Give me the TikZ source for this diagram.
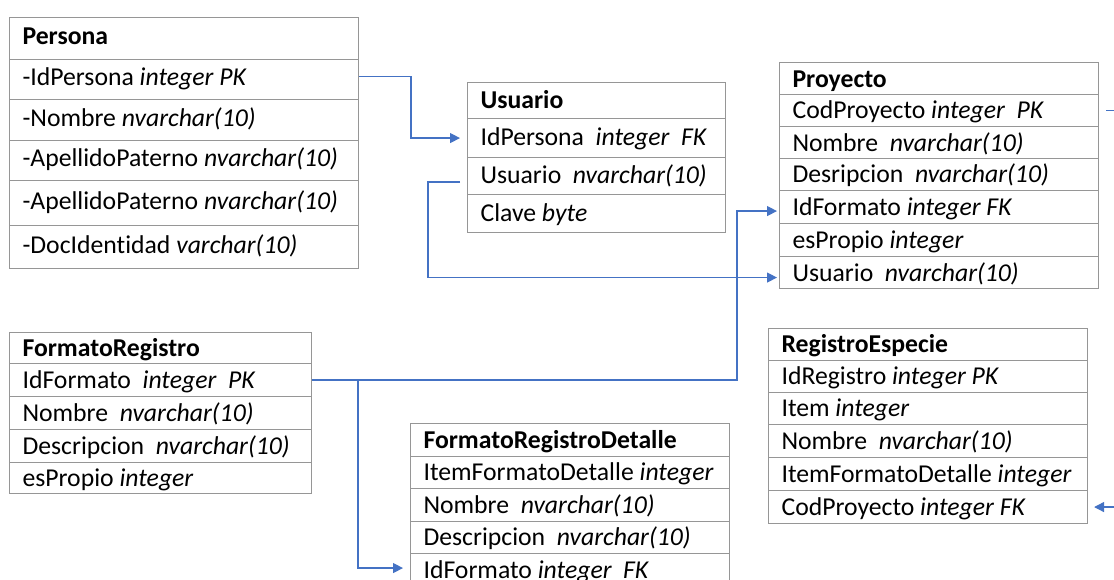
\documentclass[tikz,border=0pt]{standalone}
\usepackage{fontspec}
\setmainfont{Carlito}[Ligatures=NoCommon]
\usetikzlibrary{arrows.meta}

\definecolor{gridgray}{RGB}{150,150,150}
\definecolor{linkblue}{RGB}{68,114,196}

\tikzset{
  cell/.style={draw=gridgray, line width=1.1pt, inner xsep=13pt, inner ysep=0pt,
    font=\fontsize{25.7}{30}\selectfont},
  fklink/.style={draw=linkblue, line width=1.3pt},
  fkarrow/.style={fklink, -{Triangle[length=10pt,width=10pt]}}
}

% depth of the row strut; a smaller depth sets the text lower in its row
\newlength{\rowdepth}
\setlength{\rowdepth}{2pt}
\newcommand{\rowstrut}{\rule[-\rowdepth]{0pt}{\dimexpr 21pt+\rowdepth\relax}}

% one table row: name, left x, top y, width, height, text
\newcommand{\erow}[6]{%
  \node[cell, anchor=north west, minimum height=#5pt] (#1) at (#2,#3)
    {\makebox[\dimexpr #4pt-26pt\relax][l]{\rowstrut #6}};}

\begin{document}
\begin{tikzpicture}[x=1pt,y=-1pt]
\useasboundingbox (0,0) rectangle (1114,579);
\fill[white] (0,0) rectangle (1114,579);
\clip (0,0) rectangle (1114,579);
\coordinate (edgeR) at (1130,0);

% Persona
\setlength{\rowdepth}{9pt}
\erow{pers0}{9}{17}{349}{42}{\textbf{Persona}}
\erow{pers1}{9}{59}{349}{40}{-IdPersona \textit{integer PK}}
\erow{pers2}{9}{99}{349}{41}{-Nombre \textit{nvarchar(10)}}
\erow{pers3}{9}{140}{349}{40}{-ApellidoPaterno \textit{nvarchar(10)}}
\erow{pers4}{9}{180}{349}{45}{-ApellidoPaterno \textit{nvarchar(10)}}
\erow{pers5}{9}{225}{349}{43}{-DocIdentidad \textit{varchar(10)}}

% Usuario
\setlength{\rowdepth}{6pt}
\erow{usr0}{467}{82}{258}{36}{\textbf{Usuario}}
\erow{usr1}{467}{118}{258}{39}{IdPersona~~\textit{integer~~FK}}
\erow{usr2}{467}{157}{258}{37}{Usuario~~\textit{nvarchar(10)}}
\erow{usr3}{467}{194}{258}{38}{Clave \textit{byte}}

\setlength{\rowdepth}{2pt}
% Proyecto
\erow{proy0}{779}{62}{319}{32}{\textbf{Proyecto}}
\erow{proy1}{779}{94}{319}{32}{CodProyecto \textit{integer~~PK}}
\erow{proy2}{779}{126}{319}{32}{Nombre~~\textit{nvarchar(10)}}
\erow{proy3}{779}{158}{319}{32}{Desripcion~~\textit{nvarchar(10)}}
\erow{proy4}{779}{190}{319}{33}{IdFormato \textit{integer FK}}
\erow{proy5}{779}{223}{319}{33}{esPropio \textit{integer}}
\erow{proy6}{779}{256}{319}{32}{Usuario~~\textit{nvarchar(10)}}

% FormatoRegistro
\erow{fr0}{9}{332}{302}{31}{\textbf{FormatoRegistro}}
\erow{fr1}{9}{363}{302}{33}{IdFormato~~\textit{integer~~PK}}
\erow{fr2}{9}{396}{302}{33}{Nombre~~\textit{nvarchar(10)}}
\erow{fr3}{9}{429}{302}{33}{Descripcion~~\textit{nvarchar(10)}}
\erow{fr4}{9}{462}{302}{31}{esPropio \textit{integer}}

% FormatoRegistroDetalle
\erow{frd0}{410}{423}{319}{33}{\textbf{FormatoRegistroDetalle}}
\erow{frd1}{410}{456}{319}{32}{ItemFormatoDetalle \textit{integer}}
\erow{frd2}{410}{488}{319}{33}{Nombre~~\textit{nvarchar(10)}}
\erow{frd3}{410}{521}{319}{32}{Descripcion~~\textit{nvarchar(10)}}
\erow{frd4}{410}{553}{319}{33}{IdFormato \textit{integer~~FK}}

% RegistroEspecie
\erow{re0}{768}{328}{319}{32}{\textbf{RegistroEspecie}}
\erow{re1}{768}{360}{319}{32}{IdRegistro \textit{integer PK}}
\erow{re2}{768}{392}{319}{32}{Item \textit{integer}}
\erow{re3}{768}{424}{319}{33}{Nombre~~\textit{nvarchar(10)}}
\erow{re4}{768}{457}{319}{33}{ItemFormatoDetalle \textit{integer}}
\erow{re5}{768}{490}{319}{33}{CodProyecto \textit{integer FK}}

% foreign-key links
\draw[fkarrow] ([yshift=3pt]pers1.east) -- ++(52,0) |- ([xshift=-7pt]usr1.west);
\draw[fkarrow] ([xshift=-7pt,yshift=-6pt]usr2.west) -- ++(-32,0) |- ([xshift=-2pt,yshift=-5pt]proy6.west);
\draw[fkarrow] (fr1.east) -- ++(425,0) |- ([xshift=-2pt,yshift=-4pt]proy4.west);
\draw[fkarrow] (fr1.east) -- ++(46,0) |- ([xshift=-7pt,yshift=2pt]frd4.west);
\draw[fklink] ([xshift=7pt]proy1.east) -- (proy1.east -| edgeR);
\draw[fkarrow] (re5.east -| edgeR) -- ([xshift=6pt]re5.east);
\end{tikzpicture}
\end{document}
